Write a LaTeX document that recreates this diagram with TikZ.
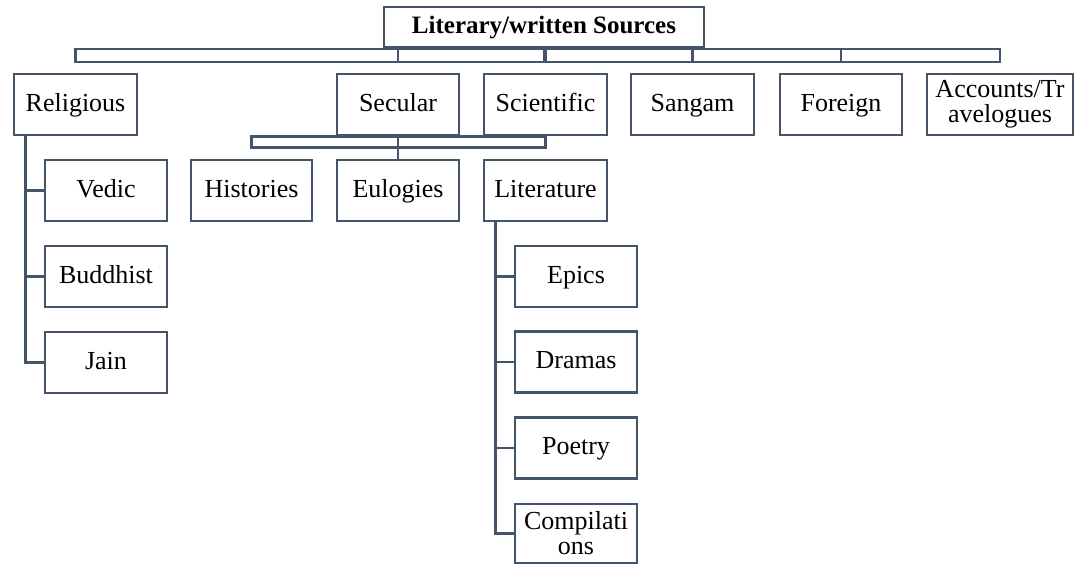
\documentclass[tikz,border=0pt]{standalone}
\usepackage{fontspec}
\setmainfont{Liberation Serif}
\usepackage{tikz}
\usetikzlibrary{positioning}
\definecolor{slate}{RGB}{68,84,106}

\begin{document}
\begin{tikzpicture}[x=0.5pt, y=-0.5pt,
        box/.style={draw=slate, line width=1.3pt, align=center, inner sep=0pt,
            minimum width=61pt, minimum height=30.5pt, font=\fontsize{13}{12.5}\selectfont},
        src/.style={box, text height=0.66em, text depth=0pt},
        link/.style={draw=slate, line width=1.3pt}]
        \useasboundingbox (0,0) rectangle (1082,565);
        % top level and first row
        \node[src, minimum width=160pt, minimum height=20pt, font=\fontsize{12.5}{13}\selectfont\bfseries] (top) at (544,27) {Literary/written Sources};
        \node[src, minimum width=61.5pt] (religious) at (75.5,104.5) {Religious};
        \node[src] (secular) at (398,104.5) {Secular};
        \node[src, minimum width=61.5pt] (scientific) at (545.5,104.5) {Scientific};
        \node[src, minimum width=61.5pt] (sangam) at (692.5,104.5) {Sangam};
        \node[src] (foreign) at (841,104.5) {Foreign};
        \node[box, minimum width=73pt] (accounts) at (1000,104.5) {Accounts/Tr\\avelogues};
        % secular branch
        \node[src, minimum width=60.5pt] (histories) at (251.5,190.5) {Histories};
        \node[src] (eulogies) at (398,190.5) {Eulogies};
        \node[src, minimum width=61.5pt] (literature) at (545.5,190.5) {Literature};
        % religious branch
        \node[src] (vedic) at (106,190.5) {Vedic};
        \node[src] (buddhist) at (106,276.5) {Buddhist};
        \node[src] (jain) at (106,362.5) {Jain};
        % literature branch
        \node[src] (epics) at (576,276.5) {Epics};
        \node[src] (dramas) at (576,362) {Dramas};
        \node[src] (poetry) at (576,448) {Poetry};
        \node[box, minimum height=29.5pt] (compilations) at (576,533.5) {Compilati\\ons};

        % double bar under the top box
        \coordinate (bartop) at (0,49);
        \coordinate (barbot) at (0,62);
        \draw[link] (religious |- bartop) rectangle (accounts |- barbot);
        \foreach \n in {top,secular,scientific,sangam,foreign}
            \draw[link] (\n |- bartop) -- (\n |- barbot);
        % double bar under secular
        \coordinate (subbot) at (0,147.5);
        \draw[link] (histories |- secular.south) rectangle (literature |- subbot);
        \draw[link] (secular.south) -- (eulogies.north);
        % trunks
        \coordinate (reltrunk) at ([xshift=6.5pt]religious.south west);
        \draw[link] (reltrunk) |- (jain.west);
        \foreach \n in {vedic,buddhist}
            \draw[link] (\n.west) -- (\n.west -| reltrunk);
        \coordinate (littrunk) at ([xshift=6.5pt]literature.south west);
        \draw[link] (littrunk) |- (compilations.west);
        \foreach \n in {epics,dramas,poetry}
            \draw[link] (\n.west) -- (\n.west -| littrunk);
\end{tikzpicture}
\end{document}
